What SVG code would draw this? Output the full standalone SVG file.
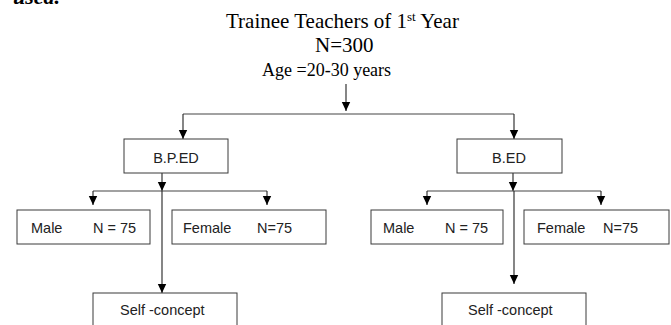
<svg xmlns="http://www.w3.org/2000/svg" width="671" height="325" viewBox="0 0 671 325">
<defs>
<marker id="ah" markerUnits="userSpaceOnUse" markerWidth="10" markerHeight="10" refX="9" refY="5" orient="auto">
<path d="M0,0.8 L9,5 L0,9.2 Z" fill="#000"/>
</marker>
<style>
.serif{font-family:"Liberation Serif","Times New Roman",serif;fill:#000}
.box{fill:#fff;stroke:#3a3a3a;stroke-width:1}
.lbl{font-family:"Liberation Sans",Arial,sans-serif;font-size:14.5px;fill:#222}
.c{fill:none;stroke:#444;stroke-width:1.1}
.a{fill:none;stroke:#222;stroke-width:1.1;marker-end:url(#ah)}
</style>
</defs>
<rect width="671" height="325" fill="#fff"/>
<text class="serif" x="13" y="4" font-size="22" font-weight="bold" font-style="italic">used.</text>
<g id="header">
<text class="serif" x="226" y="28" font-size="21">Trainee Teachers of 1<tspan font-size="13" dy="-7">st</tspan><tspan dy="7"> Year</tspan></text>
<text class="serif" x="315" y="52" font-size="21">N=300</text>
<text class="serif" x="262" y="76" font-size="18">Age =20-30 years</text>
</g>
<g id="connectors">
<path class="a" d="M346,84 V111"/>
<path class="c" d="M183,114 H514"/>
<path class="a" d="M183,114 V139"/>
<path class="a" d="M514,114 V139"/>
<path class="a" d="M162,173 V191"/>
<path class="c" d="M93,191 H267"/>
<path class="a" d="M93,191 V205"/>
<path class="a" d="M267,191 V205"/>
<path class="a" d="M162,191 V293"/>
<path class="a" d="M513,173 V191"/>
<path class="c" d="M427,191 H601"/>
<path class="a" d="M427,191 V205"/>
<path class="a" d="M601,191 V205"/>
<path class="a" d="M514,191 V284"/>
</g>
<g id="bped">
<rect class="box" x="124" y="139" width="104" height="34"/>
<text class="lbl" x="176" y="163" text-anchor="middle">B.P.ED</text>
</g>
<g id="bed">
<rect class="box" x="457" y="139" width="105" height="34"/>
<text class="lbl" x="509" y="163" text-anchor="middle">B.ED</text>
</g>
<g id="male-bped">
<rect class="box" x="17" y="210" width="133" height="34"/>
<text class="lbl" x="31" y="233">Male</text>
<text class="lbl" x="93" y="233">N = 75</text>
</g>
<g id="female-bped">
<rect class="box" x="172" y="210" width="154" height="34"/>
<text class="lbl" x="183" y="233">Female</text>
<text class="lbl" x="257" y="233">N=75</text>
</g>
<g id="male-bed">
<rect class="box" x="371" y="210" width="132" height="34"/>
<text class="lbl" x="383" y="233">Male</text>
<text class="lbl" x="445" y="233">N = 75</text>
</g>
<g id="female-bed">
<rect class="box" x="524" y="210" width="145" height="34"/>
<text class="lbl" x="537" y="233">Female</text>
<text class="lbl" x="603" y="233">N=75</text>
</g>
<g id="self-bped">
<rect class="box" x="93" y="293" width="144" height="40"/>
<text class="lbl" x="120" y="315">Self -concept</text>
</g>
<g id="self-bed">
<rect class="box" x="442" y="293" width="144" height="40"/>
<text class="lbl" x="468" y="315">Self -concept</text>
</g>
</svg>
